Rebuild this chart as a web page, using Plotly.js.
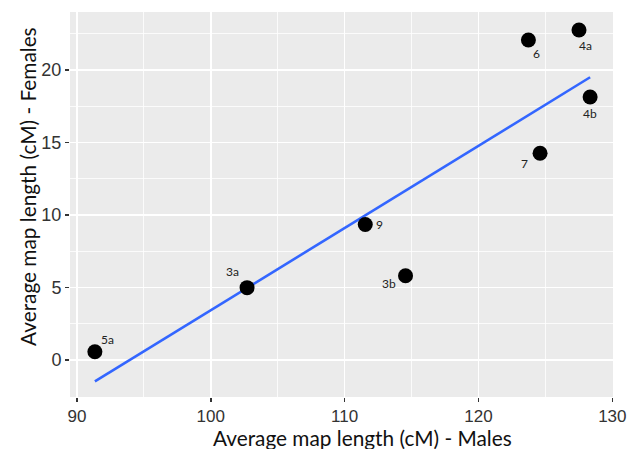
<!DOCTYPE html>
<html>
<head>
<meta charset="utf-8">
<script src="https://cdn.plot.ly/plotly-3.0.1.min.js"></script>
<style>html,body{margin:0;padding:0;background:#fff;}#chart{width:640px;height:449px;}</style>
</head>
<body>
<div id="chart"></div>
<script>
// Data
const chromosomes = ["5a", "3a", "9", "3b", "6", "4a", "4b", "7"];
const malesLength = [91.34, 102.71, 111.54, 114.55, 123.73, 127.51, 128.34, 124.6];
const femalesLength = [0.57, 4.99, 9.35, 5.81, 22.07, 22.76, 18.14, 14.26];
const xTickValues = [90, 100, 110, 120, 130];
const yTickValues = [0, 5, 10, 15, 20];
const xTitle = "Average map length (cM) - Males";
const yTitle = "Average map length (cM) - Females";

// Label placement (style only, pixels)
const labelShiftX = [13, -15, 14, -17, 8, 6, 0, -16];
const labelShiftY = [12, 16, 0, -8, -14, -16, -17, -10];

// Linear fit (geom_smooth method = lm)
const n = malesLength.length;
const mx = malesLength.reduce((a, b) => a + b, 0) / n;
const my = femalesLength.reduce((a, b) => a + b, 0) / n;
let sxy = 0, sxx = 0;
for (let i = 0; i < n; i++) {
  sxy += (malesLength[i] - mx) * (femalesLength[i] - my);
  sxx += (malesLength[i] - mx) ** 2;
}
const slope = sxy / sxx;
const intercept = my - slope * mx;
const xMin = Math.min(...malesLength), xMax = Math.max(...malesLength);
const fitX = [];
for (let k = 0; k <= 50; k++) fitX.push(xMin + (xMax - xMin) * k / 50);
const fitY = fitX.map(x => intercept + slope * x);

const traces = [
  {
    x: fitX, y: fitY, mode: "lines", type: "scatter",
    line: {color: "#3366FF", width: 2.6}, hoverinfo: "skip", showlegend: false
  },
  {
    x: malesLength, y: femalesLength, mode: "markers", type: "scatter",
    marker: {color: "#000000", size: 15}, showlegend: false
  }
];

const titleFont = {family: "Lato, Open Sans, sans-serif", size: 20.8, color: "#111"};
const annotations = chromosomes.map((c, i) => ({
  x: malesLength[i], y: femalesLength[i], xref: "x", yref: "y",
  text: c, showarrow: false, xshift: labelShiftX[i], yshift: labelShiftY[i],
  font: {family: "Lato, Open Sans, sans-serif", size: 12, color: "#222"}
})).concat([
  {text: xTitle, xref: "paper", yref: "paper", x: 0.0, y: 0, showarrow: false,
   xanchor: "center", yanchor: "middle", xshift: 292, yshift: -40, font: titleFont},
  {text: yTitle, xref: "paper", yref: "paper", x: 0, y: 0, showarrow: false, textangle: -90,
   xanchor: "center", yanchor: "middle", xshift: -43, yshift: 210, font: titleFont}
]);

const layout = {
  width: 640, height: 449,
  margin: {l: 70, r: 27, t: 12, b: 52},
  paper_bgcolor: "#FFFFFF",
  plot_bgcolor: "#EBEBEB",
  showlegend: false,
  annotations: annotations,
  xaxis: {
    range: [89.48, 130.05],
    tickvals: xTickValues,
    showgrid: true, gridcolor: "#FFFFFF", gridwidth: 1.6,
    minor: {tickvals: [95, 105, 115, 125], showgrid: true, gridcolor: "#FFFFFF", gridwidth: 0.8, ticks: ""},
    zeroline: false, showline: false,
    ticks: "outside", ticklen: 4, tickwidth: 1.4, tickcolor: "#333",
    tickfont: {family: "Liberation Sans, Arial, sans-serif", size: 17, color: "#333"}
  },
  yaxis: {
    range: [-2.55, 24.0],
    tickvals: yTickValues,
    showgrid: true, gridcolor: "#FFFFFF", gridwidth: 1.6,
    minor: {tickvals: [-2.5, 2.5, 7.5, 12.5, 17.5, 22.5], showgrid: true, gridcolor: "#FFFFFF", gridwidth: 0.8, ticks: ""},
    zeroline: false, showline: false,
    ticks: "outside", ticklen: 4, tickwidth: 1.4, tickcolor: "#333",
    tickfont: {family: "Liberation Sans, Arial, sans-serif", size: 18, color: "#333"}
  }
};

Plotly.newPlot("chart", traces, layout, {displayModeBar: false, staticPlot: true});
</script>
</body>
</html>
